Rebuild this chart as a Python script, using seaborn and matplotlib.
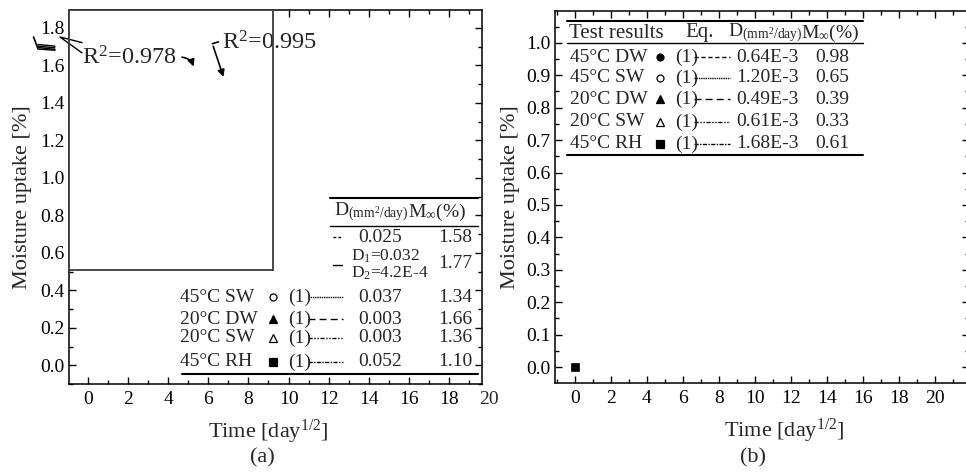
import matplotlib
matplotlib.use("Agg")
import matplotlib.pyplot as plt
import seaborn as sns
import pandas as pd
from matplotlib.lines import Line2D
from matplotlib.ticker import MultipleLocator, FormatStrFormatter

# measured points, panel (b)
b_time = [0.0]
b_uptake = [0.0]
b_point_series = ["45°C RH"]

# table of panel (a)
a_conditions = ["45°C SW", "20°C DW", "20°C SW", "45°C RH"]
a_D = ["0.037", "0.003", "0.003", "0.052"]
a_Minf = ["1.34", "1.66", "1.36", "1.10"]
a_fit_D = ["0.025", "D$_\\mathrm{1}$=0.032\nD$_\\mathrm{2}$=4.2E-4"]
a_fit_Minf = ["1.58", "1.77"]
r2_values = ["0.978", "0.995"]

# table of panel (b)
b_conditions = ["45°C DW", "45°C SW", "20°C DW", "20°C SW", "45°C RH"]
b_D = ["0.64E-3", "1.20E-3", "0.49E-3", "0.61E-3", "1.68E-3"]
b_Minf = ["0.98", "0.65", "0.39", "0.33", "0.61"]

# styles
marker_style = {"45°C DW": ("o", True), "45°C SW": ("o", False), "20°C DW": ("^", True),
                "20°C SW": ("^", False), "45°C RH": ("s", True)}
line_style = {"45°C DW": (0, (3, 2)), "45°C SW": (0, (1, 0.6)), "20°C DW": (0, (5, 3)),
              "20°C SW": (0, (3, 1.2, 1, 1.2, 1, 1.2)), "45°C RH": (0, (3, 1, 1, 1))}

sns.set_theme(style="ticks")
plt.rcParams["font.family"] = ["Liberation Serif", "DejaVu Serif"]
plt.rcParams["mathtext.fontset"] = "custom"
plt.rcParams["mathtext.rm"] = "Liberation Serif"
plt.rcParams["mathtext.it"] = "Liberation Serif:italic"
plt.rcParams["mathtext.bf"] = "Liberation Serif:bold"
FS = 14
LFS = 16

fig = plt.figure(figsize=(9.66, 4.72), dpi=100)
W, H = 966, 472
ax_a = fig.add_axes([69 / W, 1 - 384 / H, 413 / W, 374 / H])
ax_b = fig.add_axes([555 / W, 1 - 383 / H, 414 / W, 372 / H])

for ax in (ax_a, ax_b):
    ax.set_facecolor("white")
    for s in ax.spines.values():
        s.set_color("black")
        s.set_linewidth(1.1)
    ax.tick_params(which="both", direction="in", top=True, right=True,
                   colors="black", labelsize=FS, width=1.0)
    ax.tick_params(which="major", length=5)
    ax.tick_params(which="minor", length=3)
    ax.tick_params(axis="x", pad=5)
    ax.tick_params(axis="y", pad=3)
    ax.xaxis.set_major_locator(MultipleLocator(2))
    ax.xaxis.set_minor_locator(MultipleLocator(1))
    ax.set_ylabel("Moisture uptake [%]", fontsize=LFS)
    ax.set_xlabel("Time [day$^{\\mathrm{1/2}}$]", fontsize=LFS)

# panel (a)
ax_a.set_xlim(-0.95, 19.65)
ax_a.set_ylim(-0.10, 1.896)
ax_a.yaxis.set_major_locator(MultipleLocator(0.2))
ax_a.yaxis.set_minor_locator(MultipleLocator(0.1))
ax_a.yaxis.set_major_formatter(FormatStrFormatter("%.1f"))
ax_a.annotate("20", xy=(20, 0), xycoords=("data", "axes fraction"), xytext=(0, -5),
              textcoords="offset points", ha="center", va="top", fontsize=FS,
              annotation_clip=False)
ax_a.xaxis.set_label_coords(0.482, -0.09)
ax_a.yaxis.set_label_coords(-0.09, 0.5)

# panel (b)
ax_b.set_xlim(-1.11, 21.9)
ax_b.set_ylim(-0.049, 1.098)
ax_b.yaxis.set_major_locator(MultipleLocator(0.1))
ax_b.yaxis.set_minor_locator(MultipleLocator(0.05))
ax_b.yaxis.set_major_formatter(FormatStrFormatter("%.1f"))
ax_b.xaxis.set_label_coords(0.553, -0.09)
ax_b.yaxis.set_label_coords(-0.085, 0.5)

pts = pd.DataFrame({"time": b_time, "uptake": b_uptake, "series": b_point_series})
sns.scatterplot(data=pts, x="time", y="uptake", marker="s", color="black", s=30,
                edgecolor="black", linewidth=0.5, legend=False, ax=ax_b, zorder=5)


def sample(ax, x0, x1, y, ls):
    ax.add_line(Line2D([x0, x1], [y, y], transform=ax.transAxes, color="black",
                       lw=1.0, linestyle=ls, clip_on=False))


def rule(ax, x0, x1, y, lw):
    ax.add_line(Line2D([x0, x1], [y, y], transform=ax.transAxes, color="black",
                       lw=lw, clip_on=False))


def mark(ax, x, y, cond):
    m, filled = marker_style[cond]
    ax.plot([x], [y], transform=ax.transAxes, marker=m, ms=5.5 if m != "o" else 5,
            mfc="black" if filled else "white", mec="black", mew=0.9,
            linestyle="none", clip_on=False)


D_head = "D$_{\\mathrm{(mm^2/day)}}$"
M_head = "M$_{\\infty}$(%)"

# table (a)
fa = lambda px: (px - 69) / 413
fya = lambda py: (384 - py) / 374
rule(ax_a, fa(330), fa(478), fya(198), 1.5)
ax_a.text(fa(334), fya(212), D_head, transform=ax_a.transAxes, fontsize=FS, va="center")
ax_a.text(fa(408), fya(212), M_head, transform=ax_a.transAxes, fontsize=FS, va="center")
rule(ax_a, fa(330), fa(478), fya(226), 1.0)
fit_y = [237, 265]
fit_x = [358, 351]
fit_fs = [FS, 12.5]
fit_ls = [(0, (2, 1.5)), "-"]
for i in range(2):
    sample(ax_a, fa(333), fa(342), fya(fit_y[i]), fit_ls[i])
    ax_a.text(fa(fit_x[i]), fya(fit_y[i]), a_fit_D[i], transform=ax_a.transAxes,
              fontsize=fit_fs[i], va="center", linespacing=0.95)
    ax_a.text(fa(438), fya(fit_y[i] - 2 * i), a_fit_Minf[i], transform=ax_a.transAxes,
              fontsize=FS, va="center")
row_y = [297, 319, 338, 362]
for i, cond in enumerate(a_conditions):
    y = fya(row_y[i])
    ax_a.text(fa(180), y, cond, transform=ax_a.transAxes, fontsize=FS, va="center")
    mark(ax_a, fa(273), y, cond)
    ax_a.text(fa(288), y, "(1)", transform=ax_a.transAxes, fontsize=FS, va="center")
    sample(ax_a, fa(308), fa(343), y, line_style[cond])
    ax_a.text(fa(358), y, a_D[i], transform=ax_a.transAxes, fontsize=FS, va="center")
    ax_a.text(fa(438), y, a_Minf[i], transform=ax_a.transAxes, fontsize=FS, va="center")
rule(ax_a, fa(182), fa(478), fya(374), 1.5)

# table (b)
fb = lambda px: (px - 555) / 414
fyb = lambda py: (383 - py) / 372
rule(ax_b, fb(567), fb(863), fyb(21), 1.5)
hy = fyb(33)
ax_b.text(fb(569), hy, "Test results", transform=ax_b.transAxes, fontsize=15, va="center")
ax_b.text(fb(685), hy, "Eq.", transform=ax_b.transAxes, fontsize=15, va="center")
ax_b.text(fb(728), hy, D_head, transform=ax_b.transAxes, fontsize=FS, va="center")
ax_b.text(fb(801), hy, M_head, transform=ax_b.transAxes, fontsize=FS, va="center")
rule(ax_b, fb(567), fb(863), fyb(43), 1.0)
row_yb = [57, 78, 99, 122, 144]
for i, cond in enumerate(b_conditions):
    y = fyb(row_yb[i])
    ax_b.text(fb(570), y, cond, transform=ax_b.transAxes, fontsize=FS, va="center")
    mark(ax_b, fb(660), y, cond)
    ax_b.text(fb(675), y, "(1)", transform=ax_b.transAxes, fontsize=FS, va="center")
    sample(ax_b, fb(694), fb(730), y, line_style[cond])
    ax_b.text(fb(736), y, b_D[i], transform=ax_b.transAxes, fontsize=FS, va="center")
    ax_b.text(fb(815), y, b_Minf[i], transform=ax_b.transAxes, fontsize=FS, va="center")
rule(ax_b, fb(567), fb(863), fyb(155), 1.5)

# white inset frame over the upper left of panel (a)
ax_in = fig.add_axes([69 / W, 1 - 270 / H, 204 / W, 260 / H])
ax_in.set_xticks([])
ax_in.set_yticks([])
ax_in.set_facecolor("white")
for s in ax_in.spines.values():
    s.set_color("#3c3c3c")
    s.set_linewidth(1.3)
    s.set_zorder(10)

td = ax_a.transData
ax_in.text(-0.3, 1.603, "R$^{\\mathrm{2}}$=" + r2_values[0], transform=td, fontsize=17.5,
           va="baseline", clip_on=False)
ax_in.text(6.7, 1.683, "R$^{\\mathrm{2}}$=" + r2_values[1], transform=td, fontsize=17.5,
           va="baseline", clip_on=False)
arrow = dict(arrowstyle="-|>", color="black", lw=1.2, mutation_scale=10)
ax_in.annotate("", xy=(5.3, 1.58), xytext=(4.55, 1.645), xycoords=td, textcoords=td,
               arrowprops=dict(arrow, connectionstyle="arc3,rad=-0.4"),
               annotation_clip=False)
ax_in.annotate("", xy=(6.8, 1.525), xytext=(6.2, 1.716), xycoords=td, textcoords=td,
               arrowprops=arrow, annotation_clip=False)
ax_in.plot([6.2, 6.5], [1.716, 1.726], transform=td, color="black", lw=1.2, clip_on=False)
ax_in.plot([-0.3, -1.4, -0.3], [1.722, 1.752, 1.667], transform=td, color="black", lw=1.0,
           clip_on=False)
for y0, y1 in [(1.712, 1.703), (1.703, 1.694), (1.696, 1.686), (1.688, 1.681)]:
    ax_in.plot([-2.5, -1.65], [y0, y1], transform=td, color="black", lw=1.0, clip_on=False)
ax_in.plot([-2.72, -2.5], [1.752, 1.690], transform=td, color="black", lw=1.2, clip_on=False)

fig.text(262 / W, 1 - 458 / H, "(a)", ha="center", va="center", fontsize=LFS)
fig.text(753 / W, 1 - 458 / H, "(b)", ha="center", va="center", fontsize=LFS)

fig.savefig("out.png", dpi=100, facecolor="white")
